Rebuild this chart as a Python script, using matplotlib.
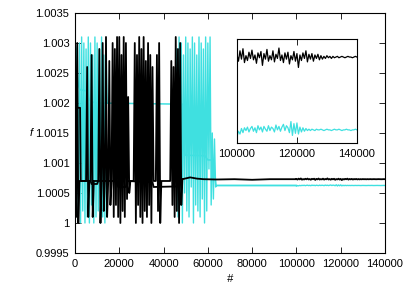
import numpy as np
import matplotlib
matplotlib.use("Agg")
import matplotlib.pyplot as plt

plt.rcParams['font.family'] = ['Liberation Sans', 'DejaVu Sans']
plt.rcParams['font.size'] = 8

# values are f - 1 in units of 1e-4 (oscillating part), steps of 500 iterations
black_osc = [31, 1, 30, 0, 7, 7, 7, 7, 7, 7,
             7, 26, 1, 7, 7, 28, 1, 7, 7, 7,
             7, 7, 29, 0, 7, 30, 2, 7, 31, 1,
             7, 27, 3, 7, 30, 1, 29, 3, 31, 1,
             31, 0, 28, 2, 31, 1, 30, 4, 21, 5,
             7, 7, 7, 7, 30, 0, 28, 3, 31, 1,
             29, 0, 31, 2, 27, 1, 30, 3, 28, 0,
             26, 7, 7, 7, 28, 2, 30, 0, 7, 7,
             7, 7, 7, 7, 7, 7, 7, 27, 3, 26,
             1, 31, 2, 29, 0, 30, 3, 7]
black_tail_x = [48500, 52000, 55000, 58000, 64000, 72000, 80000, 88000, 96000, 100000]
black_tail = [7.3, 7.6, 7.4, 7.3, 7.25, 7.3, 7.2, 7.3, 7.3, 7.3]
black_avg_x = [0, 300, 2300, 2600, 7000, 7500, 10000, 10500, 19000, 19500,
               23000, 23500, 35000, 35500, 47000, 48500]
black_avg = [30, 19.2, 19.2, 7.0, 7.0, 6.5, 6.5, 7.0, 7.0, 6.0,
             6.0, 7.0, 6.8, 6.0, 6.1, 7.3]

cyan_osc_a = [30, 29, 26, 1, 30, 0, 31, 2, 30, 0,
              29, 1, 31, 0, 30, 3, 28, 0, 31, 1,
              30, 2, 29, 0, 31, 1, 28, 0, 30, 20]   # from 0
cyan_osc_b = [20, 29, 1, 31, 3, 30, 0, 28, 5, 31, 2,
              30, 1, 29, 6, 31, 0, 30, 3, 28, 2,
              31, 1, 30, 4, 29, 0, 31, 2, 30, 9,
              31, 3, 15, 4, 14, 6, 6.25, 6.25]       # from 45500
cyan_avg_x = [0, 1500, 2200, 5300, 6500, 8900, 48800, 49700, 58700, 60000,
              62300, 63700, 100000]
cyan_avg = [30, 23, 22.2, 22, 20.5, 20, 19.8, 11.3, 11.2, 10.5,
            10.5, 6.25, 6.25]

# late fluctuations (units of 1e-6) around the final levels, 100000..140000
black_level = 7.3
cyan_level = 6.25
black_noise = [4, -6, 9, -3, 12, -8, 2, -5, 7, -2,
               10, -4, 3, -9, 6, -1, 8, -12, 5, -3,
               11, -6, 2, -4, 9, -7, 4, -2, 13, -5,
               3, -8, 6, -3, 7, -10, 2, -4, 8, -6,
               5, -15, 3, -5, 6, -2, 9, -7, 4, -3,
               5, -6, 3, -2, 4, -4, 2, -3, 1, -2,
               2, -1, 1, -2, 1, -1, 0, 1, -1, 0,
               1, 0, -1, 0, 1, 0, 0, -1, 0, 1, 0]
cyan_noise = [-10, -2, -6, 2, -4, 3, -1, 4, -3, 2,
              5, -2, 3, -4, 6, 0, 4, -3, 5, 1,
              -2, 6, -1, 4, 2, -3, 7, 0, 5, -2,
              4, 8, -1, 6, 3, -4, 12, -8, 9, -5,
              10, -6, 4, -3, 3, -2, 2, -1, 1, -1,
              1, 0, -1, 1, 0, 0, 1, 0, -1, 0,
              1, 0, 0, -1, 0, 1, 0, 0, 1, 0,
              -1, 0, 0, 1, 0, 0, -1, 0, 0, 1, 0]

# build the series
x_noise = np.linspace(100000, 140000, len(black_noise))
bx = np.concatenate([np.arange(len(black_osc)) * 500, black_tail_x, x_noise])
by = np.concatenate([1 + np.array(black_osc) * 1e-4, 1 + np.array(black_tail) * 1e-4,
                     1 + black_level * 1e-4 + np.array(black_noise) * 1e-6])

xc_noise = np.linspace(100000, 140000, len(cyan_noise))
cxa = np.arange(len(cyan_osc_a)) * 500
cya = 1 + np.array(cyan_osc_a) * 1e-4
cx = np.concatenate([45500 + np.arange(len(cyan_osc_b)) * 500, [100000], xc_noise])
cy = np.concatenate([1 + np.array(cyan_osc_b) * 1e-4, [1 + cyan_level * 1e-4],
                     1 + cyan_level * 1e-4 + np.array(cyan_noise) * 1e-6])

bax = np.array(black_avg_x)
bay = 1 + np.array(black_avg) * 1e-4
cax = np.array(cyan_avg_x)
cay = 1 + np.array(cyan_avg) * 1e-4

cyan = '#3fe0e0'

fig = plt.figure(figsize=(4.15, 2.89), dpi=100)
ax = fig.add_axes([0.1807, 0.1246, 0.747, 0.8305])

ax.plot(cxa, cya, color=cyan, lw=1.0)
ax.plot(cx, cy, color=cyan, lw=1.0)
ax.plot(cax, cay, color=cyan, lw=1.1)
ax.plot(bx, by, color='black', lw=1.3)
ax.plot(bax, bay, color='black', lw=1.3)

ax.set_xlim(0, 140000)
ax.set_ylim(0.9995, 1.0035)
ax.set_xticks(range(0, 140001, 20000))
ax.set_yticks([0.9995, 1, 1.0005, 1.001, 1.0015, 1.002, 1.0025, 1.003, 1.0035])
ax.set_yticklabels(['0.9995', '1', '1.0005', '1.001', '1.0015', '1.002', '1.0025', '1.003', '1.0035'])
ax.tick_params(direction='in', top=True, right=True, length=4, width=0.6, pad=4, labelsize=8)
for s in ax.spines.values():
    s.set_linewidth(0.8)
ax.set_xlabel('#', style='italic', labelpad=4)
ax.set_ylabel('f', style='italic', rotation=0, labelpad=3, va='center')

# inset with the late part
ins = fig.add_axes([0.571, 0.505, 0.289, 0.36])
ins.plot(xc_noise, 1 + cyan_level * 1e-4 + np.array(cyan_noise) * 1e-6, color=cyan, lw=0.9)
ins.plot(x_noise, 1 + black_level * 1e-4 + np.array(black_noise) * 1e-6, color='black', lw=0.9)
ins.set_xlim(100000, 140000)
ins.set_ylim(1.000606, 1.000756)
ins.set_xticks([100000, 120000, 140000])
ins.set_yticks([])
ins.tick_params(direction='in', top=True, length=4, width=0.6, pad=4, labelsize=8)
for s in ins.spines.values():
    s.set_linewidth(0.8)

fig.savefig('out.png', dpi=100)
